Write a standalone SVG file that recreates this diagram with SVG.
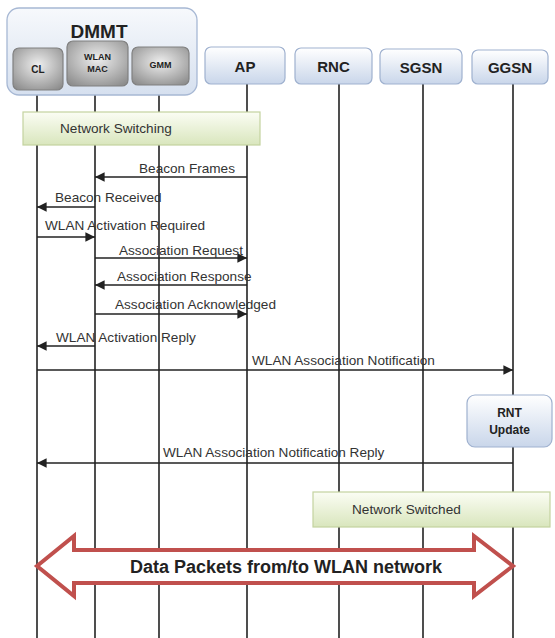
<svg xmlns="http://www.w3.org/2000/svg" width="555" height="638" viewBox="0 0 555 638">
<style>
.lbl{font-family:"Liberation Sans","DejaVu Sans",sans-serif;font-size:13.6px;fill:#333}
.hdr{font-family:"Liberation Sans","DejaVu Sans",sans-serif;font-weight:bold;fill:#222;text-anchor:middle}
.life{stroke:#222;stroke-width:1.6;fill:none}
.msg{stroke:#222;stroke-width:1.6;fill:none;marker-end:url(#ah)}
.blue{fill:url(#gBlue);stroke:#9fb1cf;stroke-width:1.2}
.gray{fill:url(#gGray);stroke:#808080;stroke-width:1.2}
.green{fill:url(#gGreen);stroke:#c3d39f;stroke-width:1.2}
</style>
<defs>
<linearGradient id="gBlue" x1="0" y1="0" x2="0" y2="1"><stop offset="0" stop-color="#ffffff"/><stop offset="1" stop-color="#c9d6ea"/></linearGradient>
<linearGradient id="gOuter" x1="0" y1="0" x2="0" y2="1"><stop offset="0" stop-color="#f7f9fc"/><stop offset="1" stop-color="#d6e0ef"/></linearGradient>
<radialGradient id="gGray" cx="0.5" cy="0.4" r="0.7"><stop offset="0" stop-color="#eeeeee"/><stop offset="1" stop-color="#8e8e8e"/></radialGradient>
<linearGradient id="gGreen" x1="0" y1="0" x2="0" y2="1"><stop offset="0" stop-color="#fbfdf4"/><stop offset="1" stop-color="#d9e6bd"/></linearGradient>
<marker id="ah" viewBox="0 0 10 10" refX="10" refY="5" markerWidth="6" markerHeight="6" orient="auto" markerUnits="strokeWidth"><path d="M0,0 L10,5 L0,10 z" fill="#222"/></marker>
</defs>
<rect width="555" height="638" fill="#fff"/>

<g id="lifelines">
<line class="life" x1="37" y1="90" x2="37" y2="638"/>
<line class="life" x1="95" y1="86" x2="95" y2="638"/>
<line class="life" x1="159" y1="85" x2="159" y2="638"/>
<line class="life" x1="247" y1="84" x2="247" y2="638"/>
<line class="life" x1="339" y1="84" x2="339" y2="638"/>
<line class="life" x1="423" y1="84" x2="423" y2="638"/>
<line class="life" x1="513" y1="84" x2="513" y2="638"/>
</g>

<g id="DMMT">
<rect x="7" y="8" width="190" height="87" rx="12" fill="url(#gOuter)" stroke="#a7b8d4" stroke-width="1.3"/>
<text class="hdr" x="99" y="38" font-size="19">DMMT</text>
</g>
<g id="CL"><rect class="gray" x="13" y="48" width="50" height="42" rx="6"/><text class="hdr" x="38" y="73" font-size="10">CL</text></g>
<g id="WLANMAC"><rect class="gray" x="67" y="41" width="61" height="45" rx="6"/><text class="hdr" x="97.5" y="60" font-size="9">WLAN</text><text class="hdr" x="97.5" y="72" font-size="9">MAC</text></g>
<g id="GMM"><rect class="gray" x="132" y="47" width="57" height="38" rx="6"/><text class="hdr" x="160.5" y="68" font-size="9">GMM</text></g>
<g id="AP"><rect class="blue" x="205" y="47" width="80" height="37" rx="6"/><text class="hdr" x="245" y="72" font-size="15">AP</text></g>
<g id="RNC"><rect class="blue" x="295" y="48" width="77" height="36" rx="6"/><text class="hdr" x="333.5" y="72" font-size="15">RNC</text></g>
<g id="SGSN"><rect class="blue" x="380" y="49" width="82" height="35" rx="6"/><text class="hdr" x="421" y="73" font-size="15">SGSN</text></g>
<g id="GGSN"><rect class="blue" x="472" y="50" width="76" height="34" rx="6"/><text class="hdr" x="510" y="73" font-size="15">GGSN</text></g>

<g id="NetworkSwitching"><rect class="green" x="23" y="112" width="237" height="33"/><text class="lbl" x="60" y="133">Network Switching</text></g>

<g id="connectors">
<line class="msg" x1="247" y1="177" x2="95" y2="177"/>
<line class="msg" x1="95" y1="207" x2="37" y2="207"/>
<line class="msg" x1="37" y1="237" x2="95" y2="237"/>
<line class="msg" x1="95" y1="258" x2="247" y2="258"/>
<line class="msg" x1="247" y1="285" x2="95" y2="285"/>
<line class="msg" x1="95" y1="314" x2="247" y2="314"/>
<line class="msg" x1="95" y1="346" x2="37" y2="346"/>
<line class="msg" x1="37" y1="370" x2="513" y2="370"/>
<line class="msg" x1="513" y1="463" x2="37" y2="463"/>
</g>

<g id="labels">
<text class="lbl" x="139" y="173">Beacon Frames</text>
<text class="lbl" x="55" y="202">Beacon Received</text>
<text class="lbl" x="45" y="230">WLAN Activation Required</text>
<text class="lbl" x="119" y="255">Association Request</text>
<text class="lbl" x="117" y="281">Association Response</text>
<text class="lbl" x="115" y="309">Association Acknowledged</text>
<text class="lbl" x="56" y="342">WLAN Activation Reply</text>
<text class="lbl" x="252" y="365">WLAN Association Notification</text>
<text class="lbl" x="163" y="457">WLAN Association Notification Reply</text>
</g>

<g id="RNTUpdate"><rect class="blue" x="467" y="395" width="85" height="52" rx="8"/><text class="hdr" x="509.5" y="417" font-size="12">RNT</text><text class="hdr" x="509.5" y="434" font-size="12">Update</text></g>

<g id="NetworkSwitched"><rect class="green" x="313" y="492" width="237" height="35"/><text class="lbl" x="352" y="514">Network Switched</text></g>

<g id="DataPackets">
<path d="M37,566 L74,536 L74,550 L474,550 L474,536 L513,566 L474,596 L474,583 L74,583 L74,596 Z" fill="#fff" stroke="#c0504d" stroke-width="4" stroke-linejoin="miter"/>
<text class="hdr" x="286" y="573" font-size="18">Data Packets from/to WLAN network</text>
</g>
</svg>
